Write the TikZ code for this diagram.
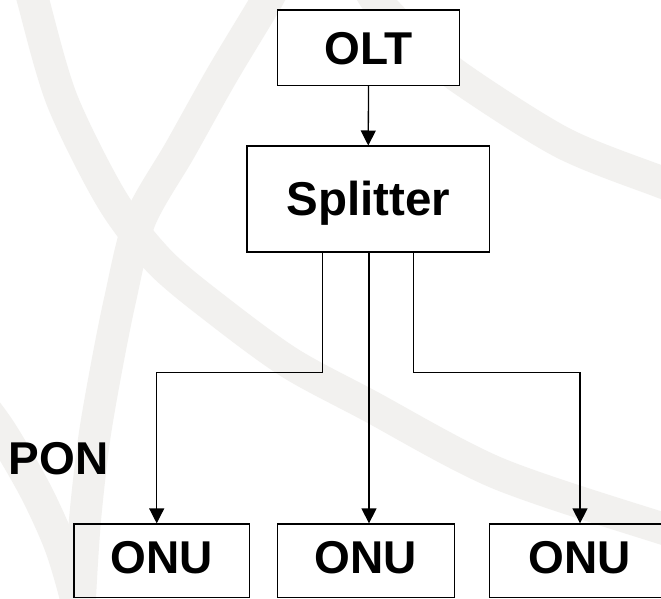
\documentclass[tikz,border=0pt]{standalone}
\usepackage{fontspec}
\setmainfont{Liberation Sans}
\usetikzlibrary{arrows.meta}
\definecolor{swirl}{RGB}{242,241,239}
\begin{document}
\begin{tikzpicture}[x=1pt,y=-1pt,
  band/.style={draw=swirl, line width=32pt, line cap=butt},
  box/.style={draw=black, line width=1.3pt, inner sep=0pt,
    font=\bfseries\fontsize{46}{50}\selectfont, text height=33pt, text depth=0pt},
  onubox/.style={box, text depth=8pt, minimum height=73.5pt},
  tag/.style={inner sep=0pt, anchor=west,
    font=\bfseries\fontsize{46}{50}\selectfont, text height=33pt, text depth=0pt},
  arr/.style={draw=black, line width=1.3pt, -{Triangle[width=15pt,length=15pt]}}]

\useasboundingbox (0,0) rectangle (661,599);
\clip (0,0) rectangle (661,599);
\fill[white] (0,0) rectangle (661,599);

% faint swirl watermark
\draw[band] plot[smooth] coordinates {(26,-30) (33,0) (62,100) (112,200) (160,262)
  (220,312) (290,363) (368,405) (497,473) (661,528) (700,538)};
\draw[band] plot[smooth] coordinates {(282,-30) (267,0) (222,75) (180,150) (140,220)
  (120,300) (106,370) (94,440) (85,520) (80,599) (80,640)};
\draw[band] plot[smooth] coordinates {(360,-30) (376,0) (412,38) (460,78) (563,143)
  (661,182) (700,196)};
\draw[band] plot[smooth] coordinates {(-30,390) (0,430) (35,490) (60,545) (76,599) (80,630)};

% network elements
\node[box, fill=white, minimum width=182pt, minimum height=75.5pt] (olt) at (368.5,47.75) {OLT};
\node[box, fill=white, minimum width=242.5pt, minimum height=105.7pt,
  font=\bfseries\fontsize{47.5}{50}\selectfont] (splitter) at (368.25,199) {Splitter};
\node[onubox, minimum width=175.5pt] (onuA) at (161.75,560.75) {ONU};
\node[onubox, minimum width=176.6pt] (onuB) at (366,560.75) {ONU};
\node[onubox, minimum width=180pt] (onuC) at (579.5,560.75) {ONU};
\node[tag] (pon) at (8.5,457.5) {PON};

% bend points of the outer branches
\coordinate (bendL) at (156.7,372.3);
\coordinate (bendR) at (580,372.3);

% links
\draw[arr] (olt.south) -- (splitter.north);
\draw[arr] ([xshift=-45.5pt]splitter.south) |- (bendL) -- (bendL |- onuA.north);
\draw[arr] ([xshift=0.75pt]splitter.south) -- ([xshift=0.75pt]splitter.south |- onuB.north);
\draw[arr] ([xshift=45pt]splitter.south) |- (bendR) -- (bendR |- onuC.north);
\end{tikzpicture}
\end{document}
